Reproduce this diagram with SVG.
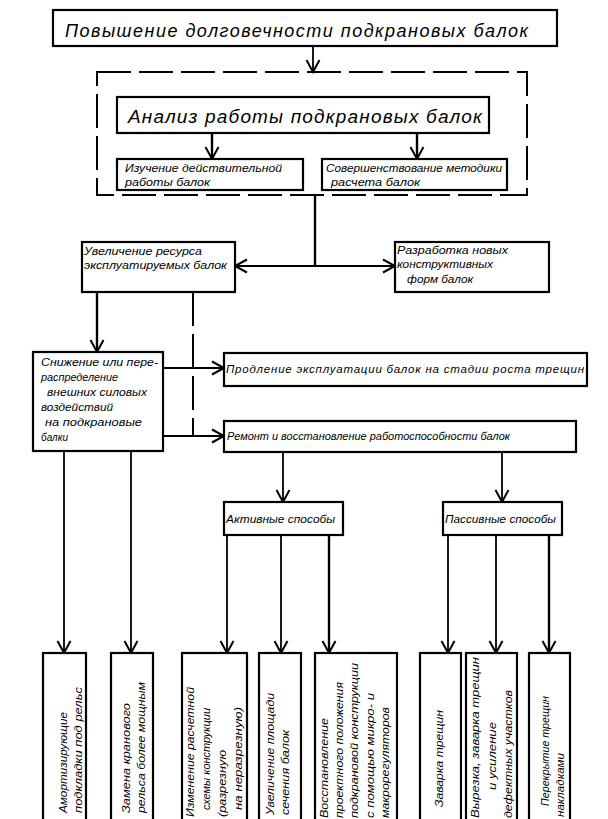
<svg xmlns="http://www.w3.org/2000/svg" width="608" height="819" viewBox="0 0 608 819">
<style>
.box{fill:#fff;stroke:#000;stroke-width:2.2}
.t{font-family:"Liberation Sans","DejaVu Sans",sans-serif;font-style:italic;font-size:11.5px;fill:#000}
.big{font-size:18px}
.mid{font-size:19px}
.c{stroke:#000;stroke-width:1.8;fill:none}
.thick{stroke-width:2.4}
.dash{stroke:#000;stroke-width:2;fill:none;stroke-dasharray:34 8}
</style>
<defs>
<marker id="ah" markerWidth="12" markerHeight="14" refX="12" refY="7" orient="auto-start-reverse" markerUnits="userSpaceOnUse" overflow="visible">
<path d="M0,0.5 L12,7 L0,13.5" fill="none" stroke="#000" stroke-width="2"/>
</marker>
</defs>
<rect width="608" height="819" fill="#fff"/>

<g id="connectors">
<line class="c" x1="313" y1="46" x2="313" y2="72" marker-end="url(#ah)"/>
<line class="c thick" x1="212" y1="133" x2="212" y2="159" marker-end="url(#ah)"/>
<line class="c thick" x1="417" y1="133" x2="417" y2="159" marker-end="url(#ah)"/>
<line class="c thick" x1="315" y1="195" x2="315" y2="266"/>
<line class="c" x1="235" y1="266" x2="395" y2="266" marker-start="url(#ah)" marker-end="url(#ah)"/>
<line class="c thick" x1="97" y1="292" x2="97" y2="352" marker-end="url(#ah)"/>
<line class="dash" x1="193" y1="292" x2="193" y2="436"/>
<line class="c" x1="163" y1="368" x2="224" y2="368" marker-end="url(#ah)"/>
<line class="c" x1="163" y1="436" x2="224" y2="436" marker-end="url(#ah)"/>
<line class="c" x1="283" y1="452" x2="283" y2="502" marker-end="url(#ah)"/>
<line class="c" x1="502" y1="452" x2="502" y2="502" marker-end="url(#ah)"/>
<line class="c" x1="64" y1="451" x2="64" y2="653" marker-end="url(#ah)"/>
<line class="c" x1="131" y1="451" x2="131" y2="653" marker-end="url(#ah)"/>
<line class="c" x1="227" y1="535" x2="227" y2="653" marker-end="url(#ah)"/>
<line class="c" x1="281" y1="535" x2="281" y2="653" marker-end="url(#ah)"/>
<line class="c thick" x1="329" y1="535" x2="329" y2="653" marker-end="url(#ah)"/>
<line class="c" x1="448" y1="535" x2="448" y2="653" marker-end="url(#ah)"/>
<line class="c" x1="496" y1="535" x2="496" y2="653" marker-end="url(#ah)"/>
<line class="c thick" x1="549" y1="535" x2="549" y2="653" marker-end="url(#ah)"/>
</g>

<g id="n-top">
<rect class="box" x="53" y="10" width="504" height="36" stroke-width="2.6"/>
<text class="t big" x="65" y="37" textLength="463" lengthAdjust="spacing">Повышение долговечности подкрановых балок</text>
</g>

<g id="n-group">
<rect class="dash" x="97" y="72" width="430" height="123" stroke-width="2.4"/>
</g>

<g id="n-analysis">
<rect class="box" x="117" y="97" width="372" height="36"/>
<text class="t mid" x="128" y="123" textLength="354" lengthAdjust="spacing">Анализ работы подкрановых балок</text>
</g>

<g id="n-study">
<rect class="box" x="117" y="159" width="186" height="31"/>
<text class="t" x="125" y="172" textLength="157" lengthAdjust="spacingAndGlyphs">Изучение действительной</text>
<text class="t" x="125" y="186" textLength="85" lengthAdjust="spacingAndGlyphs">работы балок</text>
</g>

<g id="n-method">
<rect class="box" x="322" y="159" width="185" height="31"/>
<text class="t" x="326" y="172" textLength="176" lengthAdjust="spacingAndGlyphs">Совершенствование методики</text>
<text class="t" x="331" y="186" textLength="89" lengthAdjust="spacingAndGlyphs">расчета балок</text>
</g>

<g id="n-resource">
<rect class="box" x="82" y="242" width="153" height="50"/>
<text class="t" x="84" y="255" textLength="118" lengthAdjust="spacingAndGlyphs">Увеличение ресурса</text>
<text class="t" x="84" y="269" textLength="143" lengthAdjust="spacingAndGlyphs">эксплуатируемых балок</text>
</g>

<g id="n-newforms">
<rect class="box" x="395" y="242" width="154" height="50"/>
<text class="t" x="397" y="254" textLength="111" lengthAdjust="spacingAndGlyphs">Разработка новых</text>
<text class="t" x="397" y="268" textLength="96" lengthAdjust="spacingAndGlyphs">конструктивных</text>
<text class="t" x="407" y="283" textLength="66" lengthAdjust="spacingAndGlyphs">форм балок</text>
</g>

<g id="n-reduce">
<rect class="box" x="33" y="352" width="130" height="99"/>
<text class="t" x="41" y="366" textLength="117" lengthAdjust="spacingAndGlyphs">Снижение или пере-</text>
<text class="t" x="41" y="381" textLength="77" lengthAdjust="spacingAndGlyphs">распределение</text>
<text class="t" x="47" y="396" textLength="100" lengthAdjust="spacingAndGlyphs">внешних силовых</text>
<text class="t" x="41" y="411" textLength="72" lengthAdjust="spacingAndGlyphs">воздействий</text>
<text class="t" x="45" y="426" textLength="97" lengthAdjust="spacingAndGlyphs">на подкрановые</text>
<text class="t" x="41" y="441" textLength="27" lengthAdjust="spacingAndGlyphs">балки</text>
</g>

<g id="n-extend">
<rect class="box" x="224" y="353" width="363" height="33"/>
<text class="t" x="226" y="373" textLength="358" lengthAdjust="spacing">Продление эксплуатации балок на стадии роста трещин</text>
</g>

<g id="n-repair">
<rect class="box" x="224" y="421" width="352" height="31"/>
<text class="t" x="227" y="440" textLength="283" lengthAdjust="spacingAndGlyphs">Ремонт и восстановление  работоспособности балок</text>
</g>

<g id="n-active">
<rect class="box" x="224" y="502" width="119" height="33"/>
<text class="t" x="226" y="523" textLength="109" lengthAdjust="spacingAndGlyphs">Активные способы</text>
</g>

<g id="n-passive">
<rect class="box" x="443" y="502" width="119" height="33"/>
<text class="t" x="445" y="523" textLength="111" lengthAdjust="spacingAndGlyphs">Пассивные способы</text>
</g>

<g id="n-b1">
<rect class="box" x="43" y="653" width="43" height="170"/>
<text class="t" transform="translate(67,813) rotate(-90)" textLength="101" lengthAdjust="spacingAndGlyphs">Амортизирующие</text>
<text class="t" transform="translate(82,813) rotate(-90)" textLength="126" lengthAdjust="spacingAndGlyphs">подкладки под рельс</text>
</g>

<g id="n-b2">
<rect class="box" x="111" y="653" width="42" height="170"/>
<text class="t" transform="translate(130,813) rotate(-90)" textLength="110" lengthAdjust="spacingAndGlyphs">Замена кранового</text>
<text class="t" transform="translate(145,813) rotate(-90)" textLength="131" lengthAdjust="spacingAndGlyphs">рельса более мощным</text>
</g>

<g id="n-b3">
<rect class="box" x="182" y="653" width="65" height="170"/>
<text class="t" transform="translate(194,817) rotate(-90)" textLength="130" lengthAdjust="spacingAndGlyphs">Изменение расчетной</text>
<text class="t" transform="translate(210,810) rotate(-90)" textLength="102" lengthAdjust="spacingAndGlyphs">схемы конструкции</text>
<text class="t" transform="translate(226,817) rotate(-90)" textLength="67" lengthAdjust="spacingAndGlyphs">(разрезную</text>
<text class="t" transform="translate(242,810) rotate(-90)" textLength="103" lengthAdjust="spacingAndGlyphs">на неразрезную)</text>
</g>

<g id="n-b4">
<rect class="box" x="259" y="653" width="42" height="170"/>
<text class="t" transform="translate(274,815) rotate(-90)" textLength="122" lengthAdjust="spacingAndGlyphs">Увеличение площади</text>
<text class="t" transform="translate(289,815) rotate(-90)" textLength="85" lengthAdjust="spacingAndGlyphs">сечения балок</text>
</g>

<g id="n-b5">
<rect class="box" x="315" y="653" width="82" height="170"/>
<text class="t" transform="translate(328,818) rotate(-90)" textLength="100" lengthAdjust="spacingAndGlyphs">Восстановление</text>
<text class="t" transform="translate(343,818) rotate(-90)" textLength="136" lengthAdjust="spacingAndGlyphs">проектного положения</text>
<text class="t" transform="translate(358,818) rotate(-90)" textLength="155" lengthAdjust="spacingAndGlyphs">подкрановой конструкции</text>
<text class="t" transform="translate(374,818) rotate(-90)" textLength="125" lengthAdjust="spacingAndGlyphs">с помощью микро- и</text>
<text class="t" transform="translate(389,818) rotate(-90)" textLength="111" lengthAdjust="spacingAndGlyphs">макрорегуляторов</text>
</g>

<g id="n-b6">
<rect class="box" x="420" y="653" width="41" height="170"/>
<text class="t" transform="translate(443,807) rotate(-90)" textLength="97" lengthAdjust="spacingAndGlyphs">Заварка трещин</text>
</g>

<g id="n-b7">
<rect class="box" x="466" y="653" width="51" height="170"/>
<text class="t" transform="translate(479,818) rotate(-90)" textLength="161" lengthAdjust="spacingAndGlyphs">Вырезка, заварка трещин</text>
<text class="t" transform="translate(496,790) rotate(-90)" textLength="68" lengthAdjust="spacingAndGlyphs">и усиление</text>
<text class="t" transform="translate(512,818) rotate(-90)" textLength="128" lengthAdjust="spacingAndGlyphs">дефектных участков</text>
</g>

<g id="n-b8">
<rect class="box" x="529" y="653" width="41" height="170"/>
<text class="t" transform="translate(549,806) rotate(-90)" textLength="110" lengthAdjust="spacingAndGlyphs">Перекрытие трещин</text>
<text class="t" transform="translate(564,817) rotate(-90)" textLength="64" lengthAdjust="spacingAndGlyphs">накладками</text>
</g>
</svg>
